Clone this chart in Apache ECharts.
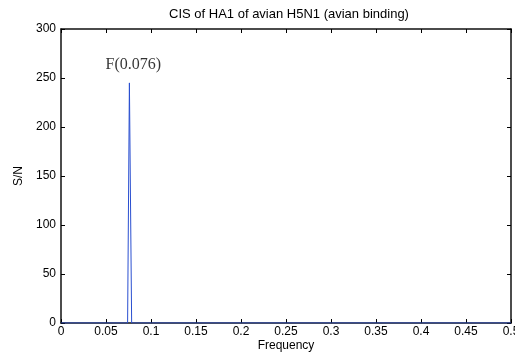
<!DOCTYPE html>
<html><head><meta charset="utf-8">
<script src="https://cdn.jsdelivr.net/npm/echarts@6/dist/echarts.min.js"></script>
<style>html,body{margin:0;padding:0;background:#fff}#c{width:515px;height:352px}</style>
</head><body><div id="c"></div>
<script>
var freq = [0, 0.074, 0.076, 0.0785, 0.5];
var sn = [0, 0, 245, 0, 0];
var xTicks = [0, 0.05, 0.1, 0.15, 0.2, 0.25, 0.3, 0.35, 0.4, 0.45, 0.5];
var yTicks = [0, 50, 100, 150, 200, 250, 300];
var titleText = 'CIS of HA1 of avian H5N1 (avian binding)';
var peakLabel = 'F(0.076)';
var peakPoint = [0.076, 245];

var chart = echarts.init(document.getElementById('c'), null, {renderer: 'canvas'});
var font = 'Arial, Liberation Sans, sans-serif';
function axisCommon() {
  return {
    axisLine: {show: true, onZero: false, lineStyle: {color: '#111', width: 1.5}},
    axisTick: {show: true, inside: true, length: 4, lineStyle: {color: '#000'}},
    splitLine: {show: false}
  };
}
chart.setOption({
  animation: false,
  title: {text: titleText, left: 284, top: 3, textAlign: 'center',
    textStyle: {fontFamily: font, fontSize: 13, fontWeight: 'normal', color: '#000'}},
  grid: {left: 61, right: 4, top: 29, bottom: 29, containLabel: false, outerBoundsMode: 'none'},
  xAxis: [
    Object.assign(axisCommon(), {type: 'value', min: 0, max: 0.5, interval: 0.05, position: 'bottom',
      name: 'Frequency', nameLocation: 'middle', nameGap: 17, nameMoveOverlap: false,
      nameTextStyle: {fontFamily: font, fontSize: 12, color: '#000'},
      axisLabel: {fontFamily: font, fontSize: 12, color: '#000', margin: 3, showMaxLabel: true,
        formatter: function(v){ return String(+v.toFixed(2)); }}}),
    Object.assign(axisCommon(), {type: 'value', min: 0, max: 0.5, interval: 0.05, position: 'top',
      gridIndex: 0, show: true, axisLabel: {show: false}})
  ],
  yAxis: [
    Object.assign(axisCommon(), {type: 'value', min: 0, max: 300, interval: 50, position: 'left',
      name: 'S/N', nameLocation: 'middle', nameGap: 36, nameMoveOverlap: false,
      nameTextStyle: {fontFamily: font, fontSize: 12, color: '#000'},
      axisLabel: {fontFamily: font, fontSize: 12, color: '#000', margin: 5}}),
    Object.assign(axisCommon(), {type: 'value', min: 0, max: 300, interval: 50, position: 'right',
      gridIndex: 0, show: true, axisLabel: {show: false}})
  ],
  series: [{
    type: 'line', data: freq.map(function(f, i){ return [f, sn[i]]; }),
    showSymbol: false, symbol: 'none',
    lineStyle: {color: '#2a4fd0', width: 1},
    z: 1
  }, {
    type: 'scatter', data: [peakPoint], symbolSize: 1, silent: true,
    xAxisIndex: 1, yAxisIndex: 1,
    itemStyle: {color: 'rgba(255,255,255,0)'},
    label: {show: true, formatter: peakLabel, position: 'top', distance: 10, offset: [4, 0],
      fontFamily: 'Liberation Serif, Times New Roman, serif', fontSize: 16, color: '#000'}
  }]
});
</script></body></html>
